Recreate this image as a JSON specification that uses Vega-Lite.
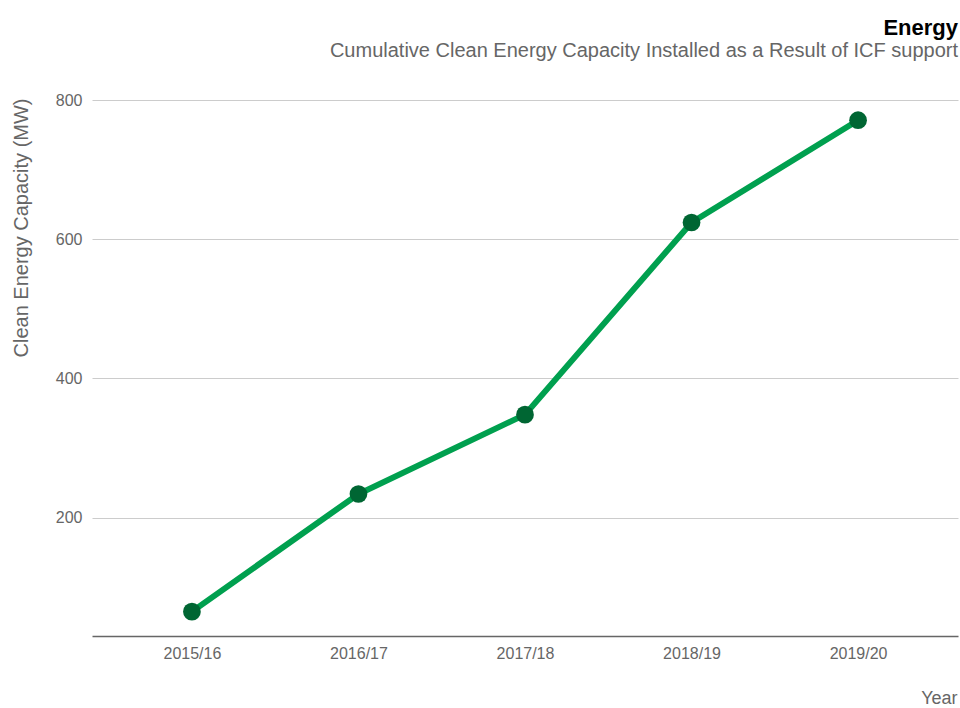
{
  "$schema": "https://vega.github.io/schema/vega-lite/v6.json",
  "autosize": "none",
  "width": 866,
  "height": 536,
  "padding": {"left": 92, "top": 100, "right": 2, "bottom": 72},
  "background": "white",
  "config": {
    "font": "Liberation Sans",
    "view": {"stroke": null}
  },
  "title": {
    "text": "Energy",
    "subtitle": "Cumulative Clean Energy Capacity Installed as a Result of ICF support",
    "anchor": "end",
    "frame": "group",
    "fontSize": 22,
    "fontWeight": "bold",
    "color": "#000000",
    "subtitleFontSize": 20,
    "subtitleColor": "#666666",
    "subtitleFont": "Liberation Sans",
    "subtitlePadding": 1,
    "offset": 30
  },
  "data": {
    "values": [
      {"year": "2015/16", "capacity": 65},
      {"year": "2016/17", "capacity": 234},
      {"year": "2017/18", "capacity": 348},
      {"year": "2018/19", "capacity": 624},
      {"year": "2019/20", "capacity": 771}
    ]
  },
  "encoding": {
    "x": {
      "field": "year",
      "type": "ordinal",
      "sort": null,
      "scale": {"type": "point", "padding": 0.6},
      "axis": {
        "title": "Year",
        "titleFontSize": 18,
        "titleFontWeight": "normal",
        "titleColor": "#666666",
        "titleAnchor": "end",
        "titleAlign": "right",
        "titleBaseline": "alphabetic",
        "titleX": 865,
        "titleY": 67,
        "labelAngle": 0,
        "labelFontSize": 16,
        "labelColor": "#666666",
        "labelPadding": 9,
        "ticks": false,
        "domainColor": "#666666",
        "domainWidth": 1.5,
        "grid": false
      }
    },
    "y": {
      "field": "capacity",
      "type": "quantitative",
      "scale": {"domain": [30, 800], "nice": false, "zero": false},
      "axis": {
        "title": "Clean Energy Capacity (MW)",
        "titleFontSize": 20,
        "titleFontWeight": "normal",
        "titleColor": "#666666",
        "titleAngle": -90,
        "titleAlign": "right",
        "titleBaseline": "alphabetic",
        "titleX": -65,
        "titleY": -2,
        "values": [200, 400, 600, 800],
        "labelFontSize": 16,
        "labelColor": "#666666",
        "labelPadding": 10,
        "ticks": false,
        "domain": false,
        "grid": true,
        "gridColor": "#cccccc",
        "gridWidth": 1
      }
    }
  },
  "layer": [
    {
      "mark": {"type": "line", "color": "#00a04f", "strokeWidth": 6}
    },
    {
      "mark": {"type": "circle", "color": "#006633", "opacity": 1, "size": 314}
    }
  ]
}
